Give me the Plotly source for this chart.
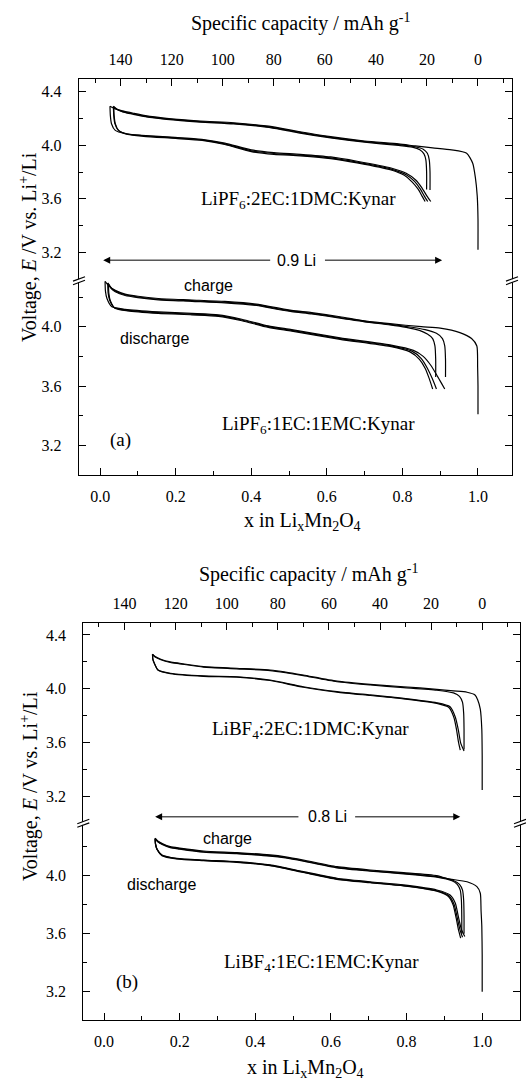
import plotly.graph_objects as go

W, H = 526, 1082
CAP_PER_X = 148.0  # mAh g-1 corresponding to 1 Li per Mn2O4

# ---------------- tick data ----------------
X_TICKS = [0.0, 0.2, 0.4, 0.6, 0.8, 1.0]
X_TICK_LABELS = ["0.0", "0.2", "0.4", "0.6", "0.8", "1.0"]
CAP_TICKS = [140, 120, 100, 80, 60, 40, 20, 0]
CAP_MINOR = [150, 130, 110, 90, 70, 50, 30, 10, -10]
V_TICKS = [3.2, 3.6, 4.0, 4.4]
V_TICK_LABELS = ["3.2", "3.6", "4.0", "4.4"]
V_MINOR = [3.4, 3.8, 4.2]

# ---------------- panel (a), upper: LiPF6 2EC:1DMC ----------------
A1_C1_X = [1.0, 1.0, 0.998, 0.993, 0.986, 0.97, 0.93, 0.88, 0.834, 0.79, 0.70, 0.61, 0.529, 0.48, 0.44, 0.353, 0.265, 0.176, 0.12, 0.088, 0.06, 0.04, 0.026]
A1_C1_V = [3.22, 3.45, 3.62, 3.76, 3.865, 3.94, 3.965, 3.98, 3.994, 4.009, 4.031, 4.063, 4.10, 4.125, 4.143, 4.167, 4.18, 4.20, 4.22, 4.238, 4.255, 4.27, 4.29]
A1_D1_X = [0.026, 0.027, 0.030, 0.040, 0.066, 0.11, 0.198, 0.269, 0.33, 0.40, 0.46, 0.53, 0.61, 0.68, 0.77, 0.81, 0.835, 0.852, 0.865, 0.875]
A1_D1_V = [4.29, 4.22, 4.16, 4.11, 4.085, 4.073, 4.058, 4.043, 4.015, 3.965, 3.945, 3.932, 3.912, 3.88, 3.83, 3.79, 3.74, 3.68, 3.62, 3.58]
A1_C2_X = [0.873, 0.873, 0.871, 0.866, 0.855, 0.834, 0.79, 0.70, 0.61, 0.529, 0.48, 0.44, 0.353, 0.265, 0.176, 0.12, 0.088, 0.06, 0.045, 0.035]
A1_C2_V = [3.665, 3.80, 3.89, 3.94, 3.97, 3.988, 4.004, 4.027, 4.058, 4.095, 4.12, 4.138, 4.162, 4.176, 4.196, 4.215, 4.232, 4.25, 4.268, 4.29]
A1_D2_X = [0.035, 0.036, 0.039, 0.048, 0.072, 0.115, 0.2, 0.27, 0.33, 0.40, 0.46, 0.53, 0.61, 0.68, 0.77, 0.81, 0.832, 0.848, 0.858, 0.867]
A1_D2_V = [4.29, 4.22, 4.16, 4.11, 4.083, 4.07, 4.054, 4.039, 4.01, 3.958, 3.938, 3.925, 3.905, 3.873, 3.822, 3.78, 3.73, 3.67, 3.62, 3.58]
A1_C3_X = [0.864, 0.864, 0.862, 0.857, 0.846, 0.826, 0.79, 0.70, 0.61, 0.529, 0.48, 0.44, 0.353, 0.265, 0.176, 0.12, 0.088, 0.06, 0.045, 0.036]
A1_C3_V = [3.67, 3.80, 3.89, 3.935, 3.965, 3.985, 3.998, 4.022, 4.054, 4.09, 4.116, 4.134, 4.158, 4.172, 4.192, 4.212, 4.23, 4.248, 4.266, 4.285]
A1_D3_X = [0.036, 0.037, 0.040, 0.049, 0.073, 0.115, 0.2, 0.27, 0.33, 0.40, 0.46, 0.53, 0.61, 0.68, 0.77, 0.805, 0.826, 0.842, 0.852, 0.86]
A1_D3_V = [4.285, 4.22, 4.16, 4.11, 4.08, 4.066, 4.05, 4.035, 4.005, 3.952, 3.932, 3.92, 3.9, 3.868, 3.815, 3.775, 3.725, 3.67, 3.62, 3.58]

# ---------------- panel (a), lower: LiPF6 1EC:1EMC ----------------
A2_C1_X = [1.0, 1.0, 0.999, 0.997, 0.983, 0.952, 0.9, 0.85, 0.767, 0.70, 0.635, 0.56, 0.507, 0.45, 0.419, 0.33, 0.243, 0.154, 0.10, 0.066, 0.04, 0.025, 0.013]
A2_C1_V = [3.41, 3.6, 3.73, 3.87, 3.92, 3.96, 3.99, 4.0, 4.02, 4.04, 4.067, 4.095, 4.11, 4.135, 4.15, 4.17, 4.18, 4.19, 4.205, 4.22, 4.245, 4.27, 4.305]
A2_D1_X = [0.013, 0.014, 0.018, 0.031, 0.066, 0.154, 0.243, 0.313, 0.375, 0.445, 0.507, 0.635, 0.767, 0.829, 0.855, 0.875, 0.894, 0.912]
A2_D1_V = [4.305, 4.24, 4.19, 4.134, 4.117, 4.10, 4.09, 4.08, 4.05, 4.005, 3.98, 3.925, 3.877, 3.84, 3.80, 3.74, 3.66, 3.58]
A2_C2_X = [0.914, 0.914, 0.912, 0.906, 0.89, 0.86, 0.82, 0.767, 0.70, 0.635, 0.56, 0.507, 0.45, 0.419, 0.33, 0.243, 0.154, 0.10, 0.066, 0.04, 0.03, 0.02]
A2_C2_V = [3.66, 3.78, 3.87, 3.92, 3.955, 3.98, 3.998, 4.016, 4.036, 4.062, 4.09, 4.106, 4.13, 4.145, 4.165, 4.175, 4.185, 4.2, 4.215, 4.24, 4.26, 4.295]
A2_D2_X = [0.02, 0.021, 0.025, 0.037, 0.07, 0.154, 0.243, 0.313, 0.375, 0.445, 0.507, 0.635, 0.767, 0.825, 0.85, 0.866, 0.879, 0.89]
A2_D2_V = [4.295, 4.23, 4.18, 4.13, 4.112, 4.095, 4.085, 4.075, 4.045, 4.0, 3.975, 3.92, 3.872, 3.835, 3.785, 3.72, 3.65, 3.58]
A2_C3_X = [0.888, 0.888, 0.886, 0.88, 0.866, 0.845, 0.81, 0.767, 0.70, 0.635, 0.56, 0.507, 0.45, 0.419, 0.33, 0.243, 0.154, 0.10, 0.066, 0.04, 0.03, 0.022]
A2_C3_V = [3.66, 3.78, 3.87, 3.92, 3.95, 3.975, 3.995, 4.012, 4.032, 4.058, 4.086, 4.102, 4.126, 4.141, 4.161, 4.171, 4.181, 4.196, 4.21, 4.235, 4.255, 4.29]
A2_D3_X = [0.022, 0.023, 0.027, 0.039, 0.072, 0.154, 0.243, 0.313, 0.375, 0.445, 0.507, 0.635, 0.767, 0.82, 0.845, 0.86, 0.871, 0.88]
A2_D3_V = [4.29, 4.225, 4.175, 4.125, 4.107, 4.09, 4.08, 4.07, 4.04, 3.995, 3.97, 3.915, 3.867, 3.83, 3.78, 3.72, 3.65, 3.58]

# ---------------- panel (b), upper: LiBF4 2EC:1DMC ----------------
B1_C1_X = [1.0, 1.0, 0.999, 0.995, 0.988, 0.981, 0.96, 0.924, 0.88, 0.792, 0.704, 0.616, 0.527, 0.48, 0.439, 0.351, 0.263, 0.2, 0.175, 0.15, 0.135, 0.128]
B1_C1_V = [3.25, 3.5, 3.7, 3.85, 3.92, 3.955, 3.975, 3.985, 3.997, 4.016, 4.034, 4.058, 4.103, 4.125, 4.14, 4.153, 4.165, 4.19, 4.20, 4.22, 4.24, 4.257]
B1_D1_X = [0.128, 0.129, 0.133, 0.143, 0.175, 0.263, 0.351, 0.439, 0.527, 0.616, 0.704, 0.792, 0.88, 0.915, 0.929, 0.937, 0.943, 0.952]
B1_D1_V = [4.257, 4.22, 4.19, 4.14, 4.116, 4.096, 4.09, 4.066, 4.016, 3.98, 3.955, 3.93, 3.897, 3.868, 3.79, 3.695, 3.6, 3.54]
B1_C2_X = [0.952, 0.952, 0.951, 0.948, 0.94, 0.924, 0.88, 0.792, 0.704, 0.616, 0.527, 0.48, 0.439, 0.351, 0.263, 0.2, 0.175, 0.15, 0.135, 0.128]
B1_C2_V = [3.55, 3.7, 3.82, 3.9, 3.945, 3.97, 3.99, 4.01, 4.029, 4.053, 4.098, 4.12, 4.136, 4.149, 4.161, 4.186, 4.196, 4.216, 4.236, 4.255]
B1_D2_X = [0.128, 0.129, 0.133, 0.143, 0.175, 0.263, 0.351, 0.439, 0.527, 0.616, 0.704, 0.792, 0.88, 0.912, 0.925, 0.932, 0.937, 0.942]
B1_D2_V = [4.255, 4.218, 4.188, 4.138, 4.113, 4.093, 4.087, 4.062, 4.012, 3.976, 3.951, 3.926, 3.892, 3.862, 3.79, 3.70, 3.61, 3.545]

# ---------------- panel (b), lower: LiBF4 1EC:1EMC ----------------
B2_C1_X = [1.0, 1.0, 0.999, 0.997, 0.995, 0.986, 0.96, 0.907, 0.88, 0.792, 0.704, 0.616, 0.527, 0.48, 0.439, 0.351, 0.263, 0.2, 0.175, 0.155, 0.142, 0.135]
B2_C1_V = [3.2, 3.45, 3.65, 3.76, 3.879, 3.924, 3.958, 3.98, 4.0, 4.021, 4.039, 4.062, 4.108, 4.13, 4.143, 4.159, 4.17, 4.19, 4.20, 4.22, 4.24, 4.258]
B2_D1_X = [0.135, 0.136, 0.14, 0.153, 0.192, 0.263, 0.351, 0.439, 0.527, 0.616, 0.704, 0.792, 0.88, 0.915, 0.929, 0.937, 0.945, 0.954]
B2_D1_V = [4.258, 4.22, 4.184, 4.143, 4.12, 4.108, 4.097, 4.074, 4.028, 3.982, 3.958, 3.936, 3.901, 3.867, 3.81, 3.717, 3.63, 3.58]
B2_C2_X = [0.952, 0.952, 0.951, 0.948, 0.94, 0.925, 0.88, 0.792, 0.704, 0.616, 0.527, 0.48, 0.439, 0.351, 0.263, 0.2, 0.175, 0.155, 0.142, 0.135]
B2_C2_V = [3.6, 3.72, 3.83, 3.9, 3.94, 3.965, 3.993, 4.016, 4.034, 4.057, 4.103, 4.125, 4.138, 4.154, 4.165, 4.186, 4.196, 4.216, 4.236, 4.255]
B2_D2_X = [0.135, 0.136, 0.14, 0.153, 0.192, 0.263, 0.351, 0.439, 0.527, 0.616, 0.704, 0.792, 0.88, 0.912, 0.926, 0.934, 0.941, 0.948]
B2_D2_V = [4.255, 4.218, 4.182, 4.14, 4.117, 4.105, 4.094, 4.071, 4.025, 3.978, 3.954, 3.932, 3.896, 3.862, 3.8, 3.71, 3.63, 3.575]
B2_C3_X = [0.946, 0.946, 0.945, 0.942, 0.934, 0.92, 0.88, 0.792, 0.704, 0.616, 0.527, 0.48, 0.439, 0.351, 0.263, 0.2, 0.175, 0.155, 0.142, 0.135]
B2_C3_V = [3.6, 3.72, 3.83, 3.9, 3.94, 3.965, 3.99, 4.013, 4.031, 4.054, 4.1, 4.122, 4.135, 4.151, 4.162, 4.183, 4.193, 4.213, 4.233, 4.252]
B2_D3_X = [0.135, 0.136, 0.14, 0.153, 0.192, 0.263, 0.351, 0.439, 0.527, 0.616, 0.704, 0.792, 0.88, 0.91, 0.923, 0.931, 0.937, 0.943]
B2_D3_V = [4.252, 4.215, 4.18, 4.138, 4.115, 4.103, 4.092, 4.069, 4.022, 3.975, 3.951, 3.929, 3.893, 3.858, 3.8, 3.71, 3.63, 3.57]

GROUPS = [
    ("x", "y", [(A1_C1_X, A1_C1_V), (A1_D1_X, A1_D1_V), (A1_C2_X, A1_C2_V), (A1_D2_X, A1_D2_V), (A1_C3_X, A1_C3_V), (A1_D3_X, A1_D3_V)]),
    ("x2", "y2", [(A2_C1_X, A2_C1_V), (A2_D1_X, A2_D1_V), (A2_C2_X, A2_C2_V), (A2_D2_X, A2_D2_V), (A2_C3_X, A2_C3_V), (A2_D3_X, A2_D3_V)]),
    ("x3", "y3", [(B1_C1_X, B1_C1_V), (B1_D1_X, B1_D1_V), (B1_C2_X, B1_C2_V), (B1_D2_X, B1_D2_V)]),
    ("x4", "y4", [(B2_C1_X, B2_C1_V), (B2_D1_X, B2_D1_V), (B2_C2_X, B2_C2_V), (B2_D2_X, B2_D2_V), (B2_C3_X, B2_C3_V), (B2_D3_X, B2_D3_V)]),
]

SERIF = "Liberation Serif"
SANS = "Liberation Sans"

fig = go.Figure()
for xa, ya, curves in GROUPS:
    for cx, cv in curves:
        fig.add_trace(go.Scatter(x=cx, y=cv, xaxis=xa, yaxis=ya, mode="lines",
                                 line=dict(color="black", width=1.2, shape="spline", smoothing=0.6),
                                 showlegend=False, hoverinfo="skip"))


def fx(p):
    return p / W


def fy(p):
    return 1 - p / H


PANELS = [
    dict(xu="xaxis", yu="yaxis", xl="xaxis2", yl="yaxis2", xid=("x", "x2"), yid=("y", "y2"),
         xpx=(79, 512), xr=[-0.056, 1.09], up=(79, 280.7), upr=[2.99, 4.493], lo=(280.7, 475), lor=[3.0, 4.31]),
    dict(xu="xaxis3", yu="yaxis3", xl="xaxis4", yl="yaxis4", xid=("x3", "x4"), yid=("y3", "y4"),
         xpx=(83.3, 520), xr=[-0.055, 1.1], up=(622.7, 823.3), upr=[3.003, 4.491], lo=(823.3, 1020), lor=[3.005, 4.361]),
]

tickfont = dict(family=SERIF, size=16, color="black")
layout = {}
for p in PANELS:
    xdom = [fx(p["xpx"][0]), fx(p["xpx"][1])]
    common_y = dict(showline=True, linecolor="black", linewidth=1.2, mirror="ticks",
                    ticks="inside", ticklen=7, tickwidth=1, tickcolor="black",
                    tickmode="array", tickvals=V_TICKS, ticktext=V_TICK_LABELS,
                    minor=dict(tickmode="array", tickvals=V_MINOR, ticks="inside", ticklen=4,
                               tickwidth=1, tickcolor="black", showgrid=False),
                    showgrid=False, zeroline=False, tickfont=tickfont, ticklabelstandoff=13,
                    fixedrange=True)
    layout[p["yu"]] = dict(common_y, domain=[fy(p["up"][1]), fy(p["up"][0])], range=p["upr"], anchor=p["xid"][0])
    layout[p["yl"]] = dict(common_y, domain=[fy(p["lo"][1]), fy(p["lo"][0])], range=p["lor"], anchor=p["xid"][1])
    layout[p["xu"]] = dict(domain=xdom, range=p["xr"], anchor=p["yid"][0], side="top",
                           showline=True, linecolor="black", linewidth=1.2, mirror=False,
                           ticks="inside", ticklen=7, tickwidth=1, tickcolor="black",
                           tickmode="array", tickvals=[1 - c / CAP_PER_X for c in CAP_TICKS],
                           ticktext=[str(c) for c in CAP_TICKS],
                           minor=dict(tickmode="array", tickvals=[1 - c / CAP_PER_X for c in CAP_MINOR],
                                      ticks="inside", ticklen=4, tickwidth=1, tickcolor="black", showgrid=False),
                           showgrid=False, zeroline=False, tickfont=tickfont, ticklabelstandoff=6,
                           fixedrange=True)
    layout[p["xl"]] = dict(domain=xdom, range=p["xr"], anchor=p["yid"][1], side="bottom",
                           showline=True, linecolor="black", linewidth=1.2, mirror=False,
                           ticks="inside", ticklen=7, tickwidth=1, tickcolor="black",
                           tickmode="array", tickvals=X_TICKS, ticktext=X_TICK_LABELS,
                           minor=dict(tickmode="linear", tick0=0, dtick=0.1, ticks="inside", ticklen=4,
                                      tickwidth=1, tickcolor="black", showgrid=False),
                           showgrid=False, zeroline=False, tickfont=tickfont, ticklabelstandoff=7,
                           fixedrange=True)

fig.update_layout(**layout)

# axis-break marks
shapes = []
for p in PANELS:
    yb = p["up"][1]
    for xe in p["xpx"]:
        shapes.append(dict(type="rect", xref="paper", yref="paper", layer="above",
                           x0=fx(xe - 2), x1=fx(xe + 2), y0=fy(yb + 1.6), y1=fy(yb - 1.6),
                           fillcolor="white", line=dict(width=0)))
        for off in (-1.8, 1.8):
            shapes.append(dict(type="line", xref="paper", yref="paper", layer="above",
                               x0=fx(xe - 6), y0=fy(yb + off + 2.2), x1=fx(xe + 6), y1=fy(yb + off - 2.2),
                               line=dict(color="black", width=1.2)))

annotations = []


def txt(text, x, y, xref, yref, font, size, **kw):
    annotations.append(dict(text=text, x=x, y=y, xref=xref, yref=yref, showarrow=False,
                            xanchor=kw.get("xanchor", "center"), yanchor=kw.get("yanchor", "middle"),
                            textangle=kw.get("textangle", 0),
                            font=dict(family=font, size=size, color="black")))


def span_arrow(label, xl, xr, x_text, gap_l, gap_r, v, xref, yref):
    txt(label, x_text, v, xref, yref, SANS, 16)
    for tip, tail in ((xl, gap_l), (xr, gap_r)):
        annotations.append(dict(text="", x=tip, y=v, ax=tail, ay=v, xref=xref, yref=yref,
                                axref=xref, ayref=yref, showarrow=True, arrowhead=2,
                                arrowsize=1.4, arrowwidth=1, arrowcolor="black"))


TOP_TITLE = "Specific capacity / mAh g<sup>-1</sup>"
BOTTOM_TITLE = "x in Li<sub>x</sub>Mn<sub>2</sub>O<sub>4</sub>"
Y_TITLE = "Voltage, <i>E</i> /V vs. Li<sup>+</sup>/Li"

# panel (a)
txt(TOP_TITLE, fx(300), fy(22), "paper", "paper", SERIF, 20)
txt(BOTTOM_TITLE, fx(302), fy(521), "paper", "paper", SERIF, 20)
txt(Y_TITLE, fx(28), fy(247), "paper", "paper", SERIF, 20, textangle=-90)
txt("LiPF<sub>6</sub>:2EC:1DMC:Kynar", 0.526, 3.592, "x", "y", SERIF, 19)
span_arrow("0.9 Li", 0.008, 0.905, 0.52, 0.454, 0.591, 3.143, "x", "y")
txt("charge", 0.288, 4.281, "x2", "y2", SANS, 16)
txt("discharge", 0.145, 3.922, "x2", "y2", SANS, 16)
txt("LiPF<sub>6</sub>:1EC:1EMC:Kynar", 0.577, 3.337, "x2", "y2", SERIF, 19)
txt("(a)", 0.053, 3.236, "x2", "y2", SERIF, 19)

# panel (b)
txt(TOP_TITLE, fx(308), fy(573), "paper", "paper", SERIF, 20)
txt(BOTTOM_TITLE, fx(305), fy(1068), "paper", "paper", SERIF, 20)
txt(Y_TITLE, fx(29), fy(786), "paper", "paper", SERIF, 20, textangle=-90)
txt("LiBF<sub>4</sub>:2EC:1DMC:Kynar", 0.545, 3.695, "x3", "y3", SERIF, 19)
span_arrow("0.8 Li", 0.135, 0.942, 0.591, 0.518, 0.66, 3.051, "x3", "y3")
txt("charge", 0.327, 4.258, "x4", "y4", SANS, 16)
txt("discharge", 0.153, 3.936, "x4", "y4", SANS, 16)
txt("LiBF<sub>4</sub>:1EC:1EMC:Kynar", 0.576, 3.396, "x4", "y4", SERIF, 19)
txt("(b)", 0.06, 3.27, "x4", "y4", SERIF, 19)

fig.update_layout(width=W, height=H, autosize=False, margin=dict(l=0, r=0, t=0, b=0),
                  paper_bgcolor="white", plot_bgcolor="white", showlegend=False,
                  font=dict(family=SERIF, size=16, color="black"),
                  shapes=shapes, annotations=annotations)

fig.write_html("out.html", config={"displayModeBar": False, "staticPlot": True},
               post_script="document.body.style.margin='0';document.body.style.padding='0';")
